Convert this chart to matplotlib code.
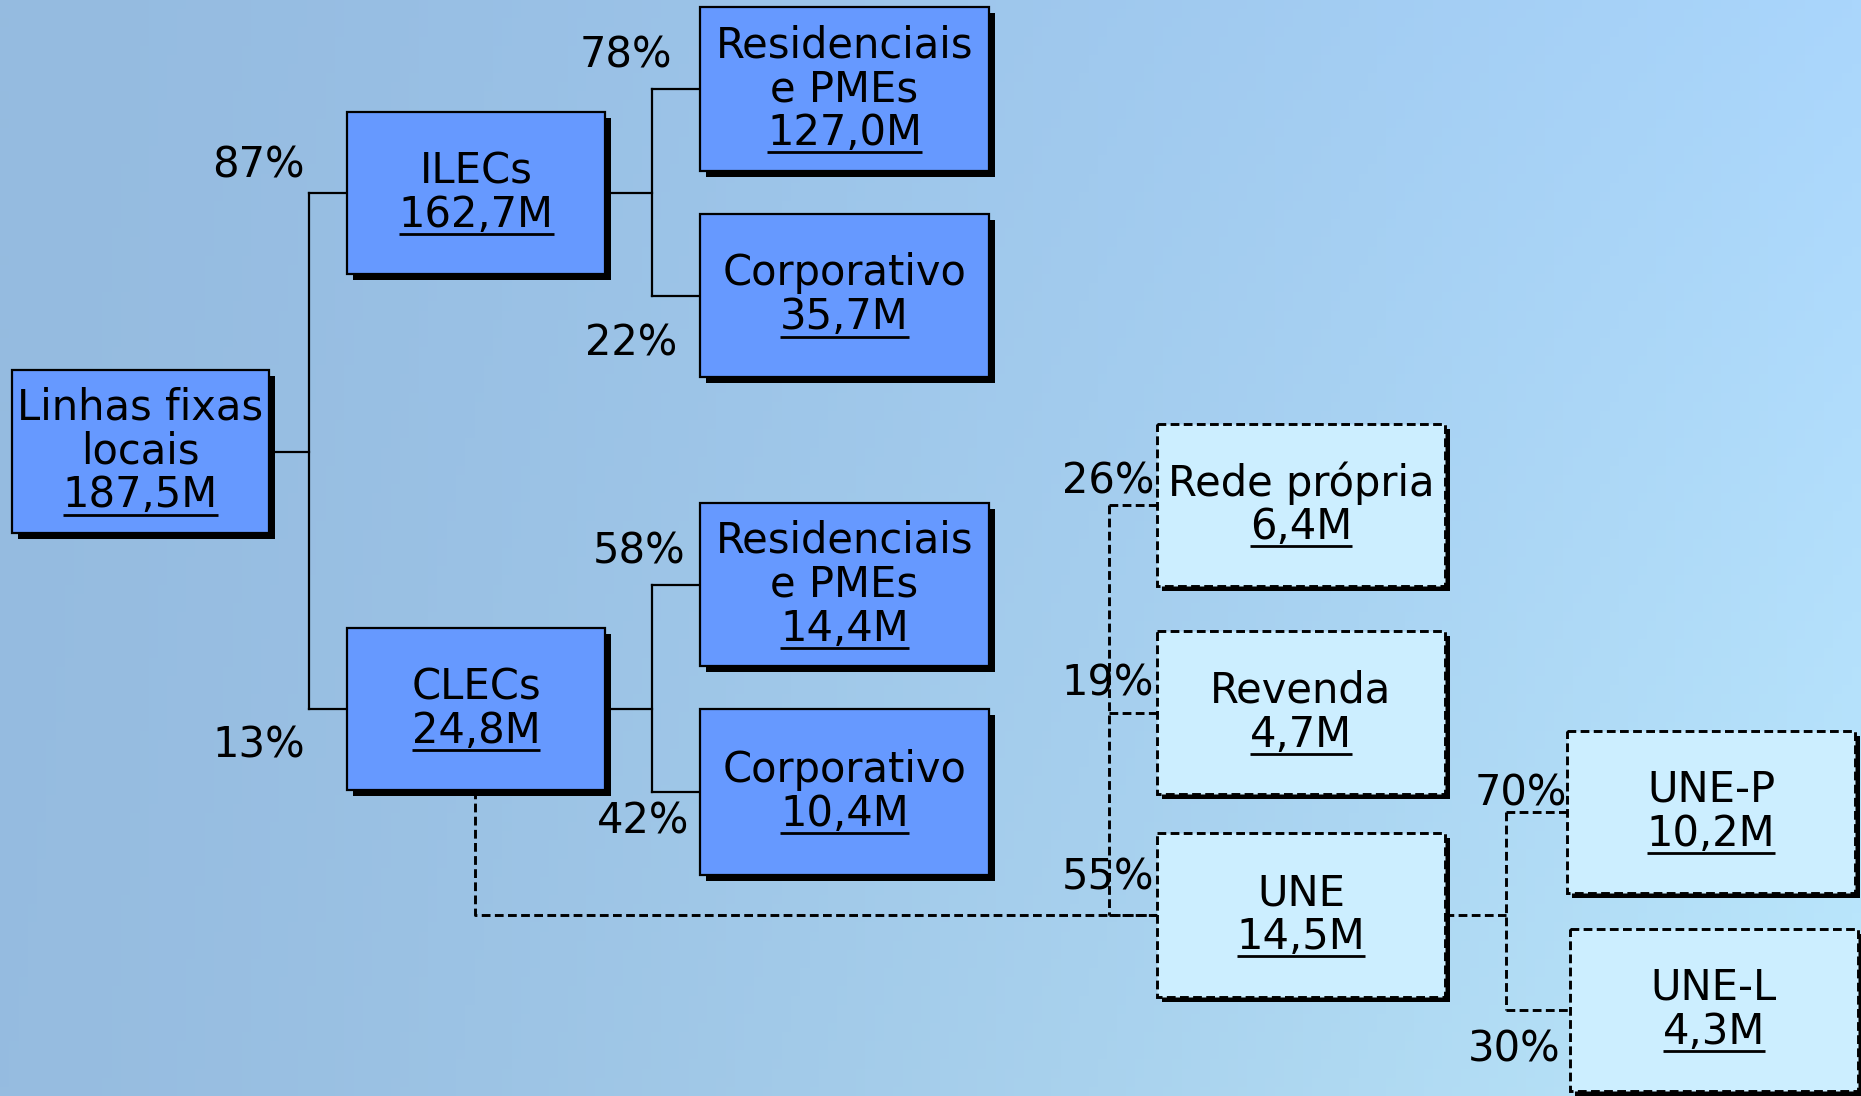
import numpy as np
import matplotlib.pyplot as plt
from matplotlib.patches import Rectangle
from matplotlib.colors import to_rgb

# arvore de linhas fixas locais
labels = ["Linhas fixas\nlocais", "ILECs", "CLECs",
          "Residenciais\ne PMEs", "Corporativo",
          "Residenciais\ne PMEs", "Corporativo",
          "Rede própria", "Revenda", "UNE", "UNE-P", "UNE-L"]
values = ["187,5M", "162,7M", "24,8M", "127,0M", "35,7M", "14,4M",
          "10,4M", "6,4M", "4,7M", "14,5M", "10,2M", "4,3M"]
shares = [None, "87%", "13%", "78%", "22%", "58%", "42%",
          "26%", "19%", "55%", "70%", "30%"]
parent = [None, 0, 0, 1, 1, 2, 2, 2, 2, 2, 9, 9]
dashed = [False] * 7 + [True] * 5

# layout em pixels (x0, y0, x1, y1)
boxes = [(12, 370, 269, 533), (347, 112, 605, 274), (347, 628, 605, 790),
         (700, 7, 989, 171), (700, 214, 989, 377),
         (700, 503, 989, 666), (700, 709, 989, 875),
         (1157, 424, 1445, 586), (1157, 631, 1445, 794), (1157, 833, 1445, 997),
         (1567, 731, 1855, 893), (1570, 929, 1858, 1091)]
# posicao dos rotulos de % (borda direita, centro y)
share_pos = [None, (305, 165), (305, 745), (672, 56), (677, 344),
             (685, 551), (689, 821), (1154, 481), (1154, 684), (1154, 878),
             (1567, 793), (1560, 1050)]
trunk_x = {0: 309, 1: 652, 2: 652, 9: 1506}

W, H = 1861, 1096
fig = plt.figure(figsize=(W / 100, H / 100), dpi=100)
ax = fig.add_axes([0, 0, 1, 1])
ax.set_xlim(0, W)
ax.set_ylim(H, 0)
ax.axis("off")

# fundo em degrade
tl, tr = np.array(to_rgb("#95bbe0")), np.array(to_rgb("#aad6fc"))
bl, br = np.array(to_rgb("#96bce0")), np.array(to_rgb("#bce8fb"))
u = np.linspace(0, 1, 200)[None, :, None]
v = np.linspace(0, 1, 120)[:, None, None]
u = u ** 1.3
img = (1 - v) * ((1 - u) * tl + u * tr) + v * ((1 - u) * bl + u * br)
ax.imshow(np.clip(img, 0, 1), extent=(0, W, H, 0), aspect="auto", zorder=0)

lw = 1.6
dlw = 2.1
dash = (0, (3.0, 1.5))
fs = 30


def cy(i):
    return (boxes[i][1] + boxes[i][3]) / 2


# conexoes
for p in set(q for q in parent if q is not None):
    kids = [i for i in range(len(parent)) if parent[i] == p]
    tx = trunk_x[p]
    solid_kids = [k for k in kids if not dashed[k]]
    dash_kids = [k for k in kids if dashed[k]]
    if solid_kids:
        ys = [cy(k) for k in solid_kids]
        ax.plot([boxes[p][2], tx], [cy(p), cy(p)], color="k", lw=lw, zorder=2)
        ax.plot([tx, tx], [min(ys), max(ys)], color="k", lw=lw, zorder=2)
        for k in solid_kids:
            ax.plot([tx, boxes[k][0]], [cy(k), cy(k)], color="k", lw=lw, zorder=2)
    if dash_kids:
        if p == 2:
            # sai por baixo da caixa CLECs
            x_out = 475
            y_join = cy(9)
            tx = 1109
            ax.plot([x_out, x_out, boxes[9][0]], [boxes[p][3], y_join, y_join],
                    color="k", lw=dlw, ls=dash, zorder=2)
        else:
            ax.plot([boxes[p][2], tx], [cy(p), cy(p)], color="k", lw=dlw, ls=dash, zorder=2)
        ys = [cy(k) for k in dash_kids]
        ax.plot([tx, tx], [min(ys), max(ys)], color="k", lw=dlw, ls=dash, zorder=2)
        for k in dash_kids:
            ax.plot([tx, boxes[k][0]], [cy(k), cy(k)], color="k", lw=dlw, ls=dash, zorder=2)

# caixas
texts = []
for i, (x0, y0, x1, y1) in enumerate(boxes):
    w, h = x1 - x0, y1 - y0
    off = 6 if not dashed[i] else 5
    ax.add_patch(Rectangle((x0 + off, y0 + off), w, h, facecolor="k",
                           edgecolor="none", zorder=3))
    if dashed[i]:
        ax.add_patch(Rectangle((x0, y0), w, h, facecolor="#cceeff",
                               edgecolor="k", lw=dlw, ls=dash, zorder=4))
    else:
        ax.add_patch(Rectangle((x0, y0), w, h, facecolor="#6699ff",
                               edgecolor="k", lw=lw, zorder=4))
    lines = labels[i].split("\n") + [values[i]]
    step = 44
    ymid = (y0 + y1) / 2
    start = ymid - step * (len(lines) - 1) / 2
    xc = (x0 + x1) / 2
    for j, s in enumerate(lines):
        t = ax.text(xc, start + j * step, s, ha="center", va="center",
                    fontsize=fs, color="k", zorder=5)
        if j == len(lines) - 1:
            texts.append(t)

for i, sp in enumerate(share_pos):
    if sp is None:
        continue
    ax.text(sp[0], sp[1], shares[i], ha="right", va="center",
            fontsize=fs, color="k", zorder=5)

# sublinhado dos valores
fig.canvas.draw()
inv = ax.transData.inverted()
for t in texts:
    bb = t.get_window_extent()
    (xa, ya), (xb, yb) = inv.transform([[bb.x0, bb.y0], [bb.x1, bb.y1]])
    yline = t.get_position()[1] + 19
    ax.plot([xa, xb], [yline, yline], color="k", lw=2, zorder=5,
            solid_capstyle="butt")

fig.savefig("out.png", dpi=100)
